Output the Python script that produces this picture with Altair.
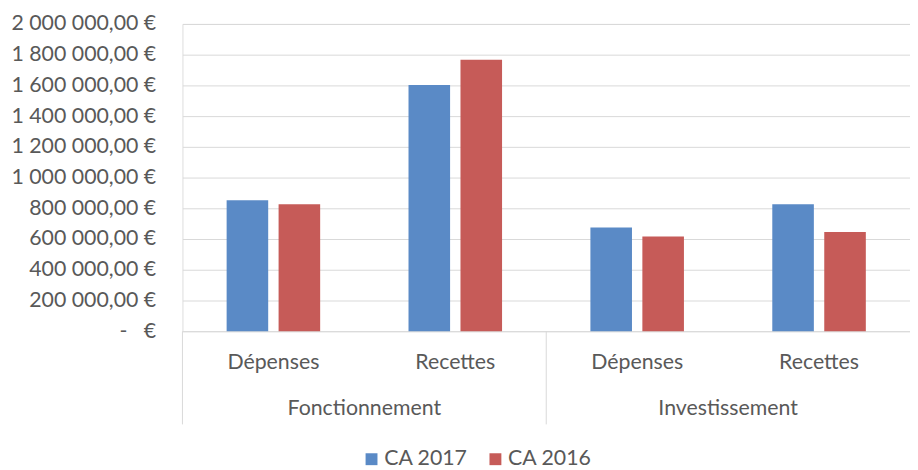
import altair as alt
import pandas as pd

groups = ["Fonctionnement", "Fonctionnement", "Investissement", "Investissement"]
subs = ["Dépenses", "Recettes", "Dépenses", "Recettes"]
series = ["CA 2017", "CA 2016"]
ca2017 = [852000, 1602000, 675000, 826000]
ca2016 = [826000, 1767000, 617000, 645000]
y_ticks = [0, 200000, 400000, 600000, 800000, 1000000, 1200000, 1400000, 1600000, 1800000, 2000000]
colors = ["#5A8AC6", "#C65B58"]

keys = [f"{g}|{s}" for g, s in zip(groups, subs)]

rows = []
for k, g, s, a, b in zip(keys, groups, subs, ca2017, ca2016):
    rows.append({"key": k, "group": g, "sub": s, "serie": series[0], "value": a})
    rows.append({"key": k, "group": g, "sub": s, "serie": series[1], "value": b})
df = pd.DataFrame(rows)

cats = pd.DataFrame({"key": keys, "sub": subs})

grp_names = []
grp_first = []
for k, g in zip(keys, groups):
    if g not in grp_names:
        grp_names.append(g)
        grp_first.append(k)
grp_df = pd.DataFrame({"key": grp_first, "group": grp_names})

FONT = "Lato"
FS = 21.5
TXT = "#595959"
GRID = "#D9D9D9"

xscale = alt.Scale(domain=keys, paddingInner=0, paddingOuter=0)

nb = "\u00a0"
label_expr = (
    f"datum.value == 0 ? '-{nb}{nb}{nb}€' : "
    f"replace(replace(format(datum.value, ',.2f'), regexp(',', 'g'), '{nb}'), '.', ',') + '{nb}€'"
)

bars = alt.Chart(df).mark_bar().encode(
    x=alt.X("key:N", scale=xscale, axis=None, sort=keys),
    xOffset=alt.XOffset("serie:N", sort=series,
                        scale=alt.Scale(domain=series, paddingInner=0.2, paddingOuter=0.85)),
    y=alt.Y("value:Q",
            scale=alt.Scale(domain=[0, 2000000], nice=False),
            axis=alt.Axis(values=y_ticks, title=None, grid=True, gridColor=GRID, gridWidth=1,
                          domain=False, ticks=False, labelPadding=27, labelFont=FONT,
                          labelFontSize=FS, labelColor=TXT, labelExpr=label_expr)),
    color=alt.Color("serie:N", sort=series,
                    scale=alt.Scale(domain=series, range=colors),
                    legend=alt.Legend(title=None, orient="none", direction="horizontal",
                                      legendX=180, legendY=428, symbolType="square",
                                      symbolSize=144, symbolStrokeWidth=0, labelFont=FONT,
                                      labelFontSize=FS, labelColor=TXT, labelOffset=2,
                                      columnPadding=17, padding=0)),
)

seps = alt.Chart(grp_df).mark_rule(color=GRID, strokeWidth=1).encode(
    x=alt.X("key:N", bandPosition=0, scale=xscale, sort=keys),
    y=alt.value(310),
    y2=alt.value(404),
)

sub_labels = alt.Chart(cats).mark_text(
    font=FONT, fontSize=FS, color=TXT, baseline="alphabetic", align="center"
).encode(
    x=alt.X("key:N", bandPosition=0.5, scale=xscale, sort=keys),
    y=alt.value(348),
    text="sub:N",
)

grp_labels = alt.Chart(grp_df).mark_text(
    font=FONT, fontSize=FS, color=TXT, baseline="alphabetic", align="center"
).encode(
    x=alt.X("key:N", bandPosition=1, scale=xscale, sort=keys),
    y=alt.value(395),
    text="group:N",
)

chart = alt.layer(bars, seps, sub_labels, grp_labels).properties(
    width=734,
    height=310,
    padding={"left": 176, "top": 14, "right": 0, "bottom": 146},
    autosize=alt.AutoSizeParams(type="none"),
).configure_view(stroke=None).configure(background="white")

chart.save("out.html", embed_options={"renderer": "svg", "actions": False})
